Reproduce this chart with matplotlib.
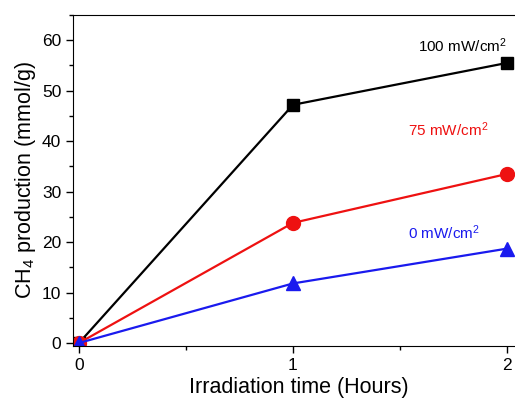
import matplotlib
matplotlib.use("Agg")
import matplotlib.pyplot as plt
from matplotlib.ticker import MultipleLocator

plt.rcParams['font.family'] = ['Liberation Sans', 'DejaVu Sans']
plt.rcParams['mathtext.fontset'] = 'custom'
plt.rcParams['mathtext.rm'] = 'Liberation Sans'
plt.rcParams['mathtext.it'] = 'Liberation Sans:italic'
plt.rcParams['mathtext.bf'] = 'Liberation Sans:bold'

# donnees
temps = [0, 1, 2]
p100 = [0, 47.2, 55.5]
p75 = [0, 23.8, 33.5]
p0 = [0, 11.8, 18.7]

fig = plt.figure(figsize=(5.15, 3.99), dpi=100)
ax = fig.add_axes([73/515, 53/399, (525-73)/515, (346-15)/399])

ax.plot(temps, p100, color='black', lw=1.6, marker='s', ms=9)
ax.plot(temps, p75, color='#ee1111', lw=1.6, marker='o', ms=10)
ax.plot(temps, p0, color='#1a1aee', lw=1.6, marker='^', ms=10)

ax.text(1.584, 59.0, '100 mW/cm$^2$', color='black', fontsize=11, va='center')
ax.text(1.537, 42.2, '75 mW/cm$^2$', color='#ee1111', fontsize=11, va='center')
ax.text(1.537, 21.8, '0 mW/cm$^2$', color='#1a1aee', fontsize=11, va='center')

ax.set_xlim(-0.028, (525-79)/214)
ax.set_ylim(-0.6, 65)
ax.xaxis.set_major_locator(MultipleLocator(1))
ax.xaxis.set_minor_locator(MultipleLocator(0.5))
ax.yaxis.set_major_locator(MultipleLocator(10))
ax.yaxis.set_minor_locator(MultipleLocator(5))
ax.tick_params(which='major', length=5, width=1, labelsize=12.5, direction='out')
ax.tick_params(which='minor', length=3, width=1, direction='out')
ax.spines['right'].set_visible(False)

ax.set_xlabel('Irradiation time (Hours)', fontsize=15.5, labelpad=3)
ax.set_ylabel('CH$_4$ production (mmol/g)', fontsize=15.5, labelpad=3)

fig.savefig('out.png', dpi=100)
